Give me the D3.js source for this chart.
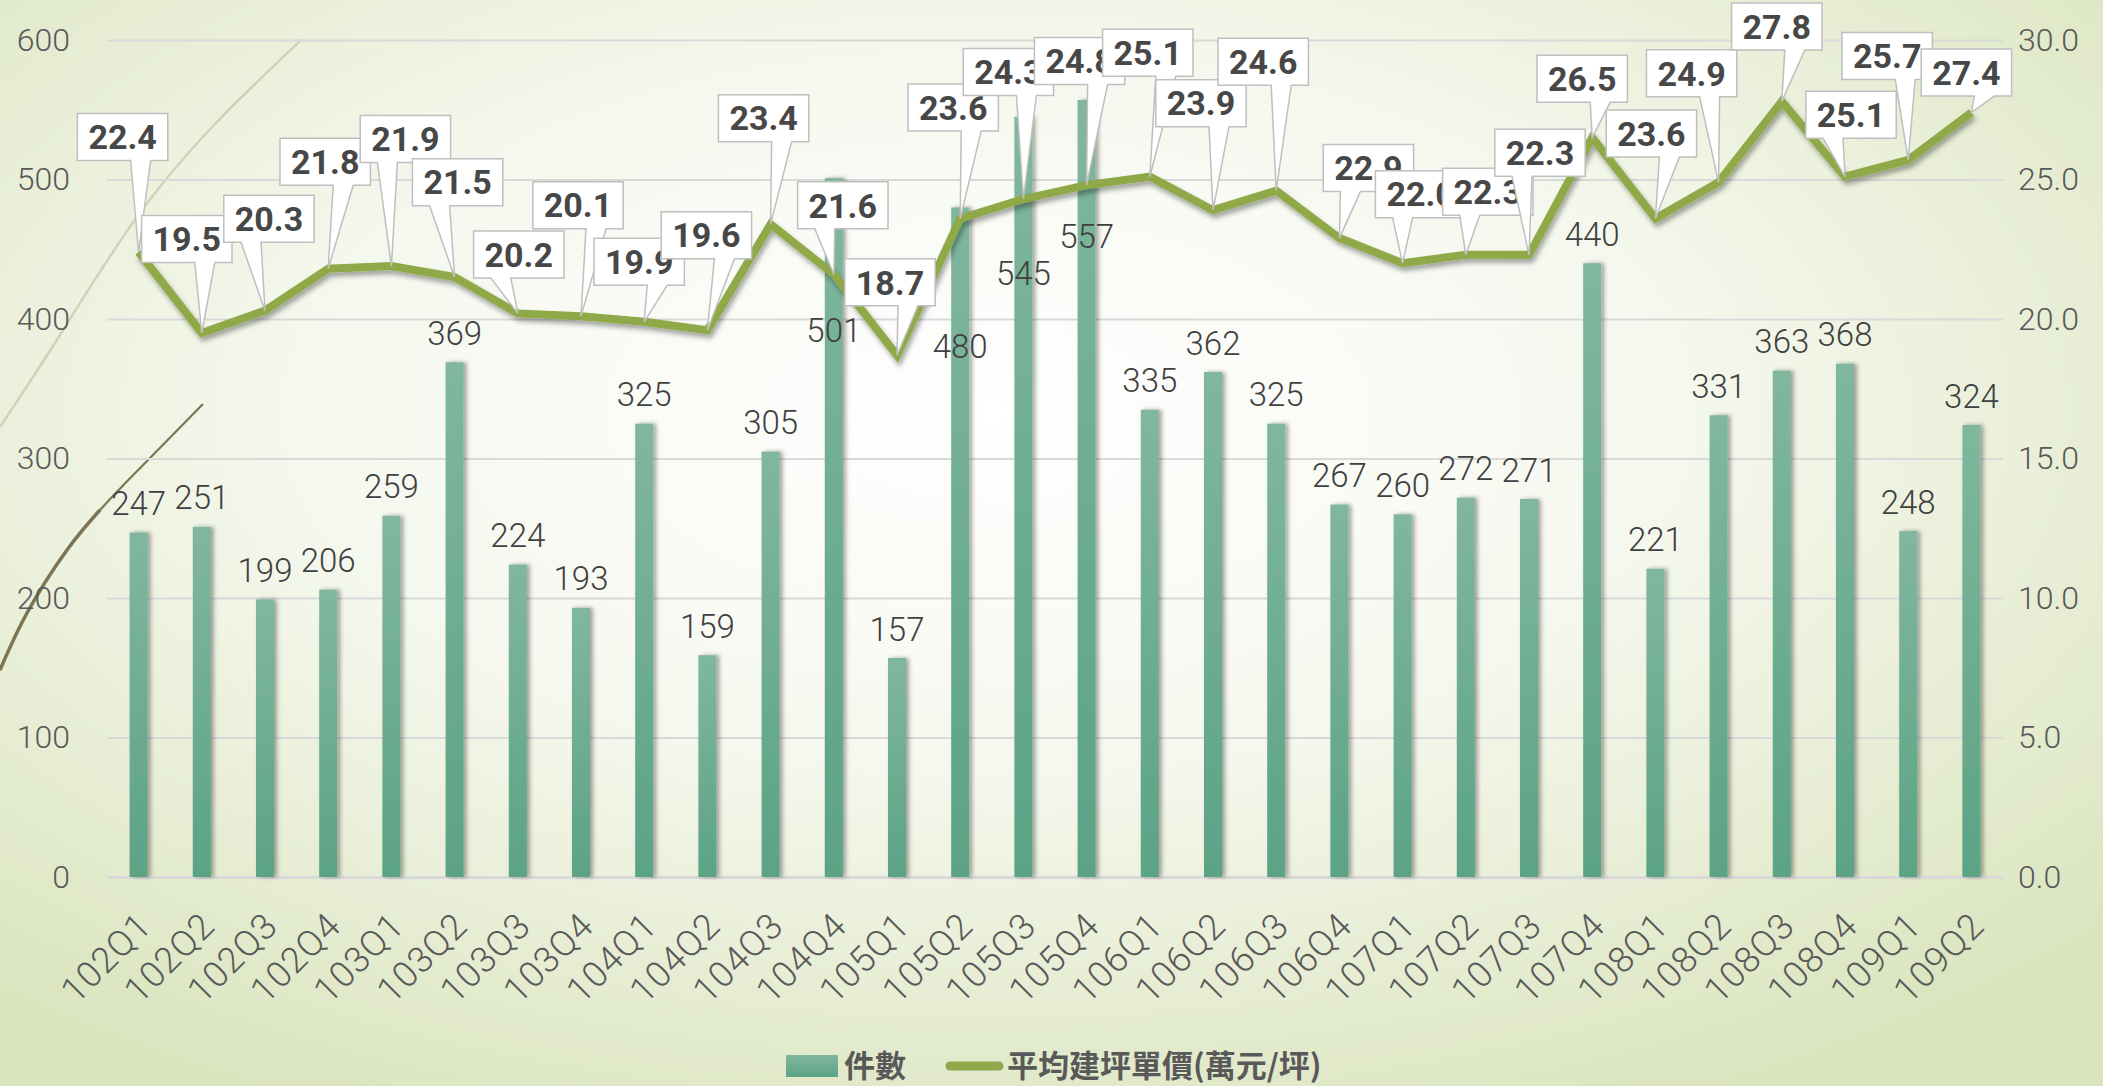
<!DOCTYPE html>
<html>
<head>
<meta charset="utf-8">
<script src="https://cdn.jsdelivr.net/npm/d3@7"></script>
<style>
  body { margin: 0; overflow: hidden; }
  svg { display: block; }
</style>
</head>
<body>
<svg id="chart" width="2103" height="1086"></svg>
<script>
const quarters = [
  '102Q1', '102Q2', '102Q3', '102Q4', '103Q1', '103Q2', '103Q3', '103Q4',
  '104Q1', '104Q2', '104Q3', '104Q4', '105Q1', '105Q2', '105Q3', '105Q4',
  '106Q1', '106Q2', '106Q3', '106Q4', '107Q1', '107Q2', '107Q3', '107Q4',
  '108Q1', '108Q2', '108Q3', '108Q4', '109Q1', '109Q2'
];
const counts = [
  247, 251, 199, 206, 259, 369, 224, 193, 325, 159, 305, 501, 157, 480, 545,
  557, 335, 362, 325, 267, 260, 272, 271, 440, 221, 331, 363, 368, 248, 324
];
const prices = [
  22.4, 19.5, 20.3, 21.8, 21.9, 21.5, 20.2, 20.1, 19.9, 19.6, 23.4, 21.6, 18.7, 23.6, 24.3,
  24.8, 25.1, 23.9, 24.6, 22.9, 22.0, 22.3, 22.3, 26.5, 23.6, 24.9, 27.8, 25.1, 25.7, 27.4
];
const countTicks = [0, 100, 200, 300, 400, 500, 600];
const priceTicks = [0, 5, 10, 15, 20, 25, 30];
const seriesNames = ['件數', '平均建坪單價(萬元/坪)'];

// where each price callout box sits, relative to its point (hand placed in the original)
const calloutOffsets = [
  [-16, -115], [-15, -94], [4, -92], [-3, -107], [14, -127], [3, -95], [1, -59], [-3, -111],
  [-5, -60], [-1, -95], [-7, -106], [9, -69], [-7, -73], [-7, -111], [-15, -127], [-7, -124],
  [-2, -124], [-12, -107], [-13, -129], [29, -70], [18, -69], [22, -63], [11, -102], [-10, -59],
  [-4, -85], [-27, -109], [-5, -75], [6, -62], [-21, -104], [-5, -40]
];
// count labels that were dragged down under the line
const countLabelShift = { 11: 181, 13: 168, 14: 186, 15: 165 };

const W = 2103, H = 1086;
const plotLeft = 107, plotRight = 2003, plotTop = 40, plotBottom = 877;
const svg = d3.select('#chart');
const defs = svg.append('defs');

// background
const bg = defs.append('radialGradient').attr('id', 'bg')
  .attr('cx', '47%').attr('cy', '38%').attr('r', '72%');
bg.append('stop').attr('offset', '0%').attr('stop-color', '#ffffff');
bg.append('stop').attr('offset', '45%').attr('stop-color', '#f5f8ee');
bg.append('stop').attr('offset', '100%').attr('stop-color', '#dae4bd');
svg.append('rect').attr('width', W).attr('height', H).attr('fill', 'url(#bg)');

const barGrad = defs.append('linearGradient').attr('id', 'barGrad')
  .attr('x1', 0).attr('y1', 0).attr('x2', 0).attr('y2', 1);
barGrad.append('stop').attr('offset', '0%').attr('stop-color', '#80b79e');
barGrad.append('stop').attr('offset', '100%').attr('stop-color', '#5ca386');

const barShadow = defs.append('filter').attr('id', 'barShadow')
  .attr('x', '-50%').attr('y', '-5%').attr('width', '200%').attr('height', '110%');
barShadow.append('feDropShadow').attr('dx', 3).attr('dy', 0).attr('stdDeviation', 2)
  .attr('flood-color', '#000').attr('flood-opacity', 0.35);

const lineShadow = defs.append('filter').attr('id', 'lineShadow')
  .attr('x', '-5%').attr('y', '-10%').attr('width', '110%').attr('height', '130%');
lineShadow.append('feDropShadow').attr('dx', 2).attr('dy', 4).attr('stdDeviation', 2.5)
  .attr('flood-color', '#000').attr('flood-opacity', 0.35);

// theme swooshes on the left
svg.append('path')
  .attr('d', d3.line().curve(d3.curveNatural)([[0, 427], [60, 335], [134, 221], [215, 124], [302, 39]]))
  .attr('fill', 'none').attr('stroke', '#cfd3bb').attr('stroke-width', 2.5);
svg.append('path')
  .attr('d', d3.line().curve(d3.curveNatural)([[0, 670], [27, 613], [67, 550], [112, 497], [150, 458], [203, 404]]))
  .attr('fill', 'none').attr('stroke', '#7c7452').attr('stroke-width', 2.2);
svg.append('path')
  .attr('d', d3.line().curve(d3.curveNatural)([[0, 670], [27, 613], [67, 550], [100, 510]]))
  .attr('fill', 'none').attr('stroke', '#7c7452').attr('stroke-width', 3.5);

const x = d3.scaleBand().domain(quarters).range([plotLeft, plotRight]);
const y = d3.scaleLinear().domain([0, 600]).range([plotBottom, plotTop]);
const y2 = d3.scaleLinear().domain([0, 30]).range([plotBottom, plotTop]);

// gridlines
const grid = svg.append('g').attr('transform', `translate(${plotLeft},0)`)
  .call(d3.axisLeft(y).tickValues(countTicks).tickSize(-(plotRight - plotLeft)).tickFormat(''));
grid.select('.domain').remove();
grid.selectAll('line').attr('stroke', '#d9d9d9').attr('stroke-width', 2);
grid.selectAll('.tick').filter(d => d === 0).select('line').attr('stroke-width', 3);

// left axis
const yAxis = svg.append('g').attr('transform', 'translate(70,0)')
  .call(d3.axisLeft(y).tickValues(countTicks).tickSize(0).tickPadding(0));
yAxis.select('.domain').remove();
yAxis.selectAll('text').attr('fill', '#595959').style('font-family', 'Roboto')
  .style('font-weight', 300).style('font-size', '32px');

// right axis
const y2Axis = svg.append('g').attr('transform', 'translate(2018,0)')
  .call(d3.axisRight(y2).tickValues(priceTicks).tickSize(0).tickPadding(0).tickFormat(d3.format('.1f')));
y2Axis.select('.domain').remove();
y2Axis.selectAll('text').attr('fill', '#595959').style('font-family', 'Roboto')
  .style('font-weight', 300).style('font-size', '32px');

// x axis
const xAxis = svg.append('g').attr('transform', `translate(0,${plotBottom})`)
  .call(d3.axisBottom(x).tickSize(0));
xAxis.select('.domain').remove();
xAxis.selectAll('text')
  .attr('fill', '#595959').style('font-family', 'Roboto').style('font-weight', 300)
  .style('font-size', '36px').style('letter-spacing', '1px')
  .attr('text-anchor', 'end').attr('x', 0).attr('y', 0).attr('dy', '0.35em')
  .attr('transform', 'translate(6,42) rotate(-45)');

// bars
const barW = 18;
svg.append('g').selectAll('rect').data(counts).join('rect')
  .attr('x', (d, i) => x(quarters[i]) + (x.bandwidth() - barW) / 2)
  .attr('y', d => y(d))
  .attr('width', barW)
  .attr('height', d => y(0) - y(d))
  .attr('fill', 'url(#barGrad)')
  .attr('filter', 'url(#barShadow)');

// price line
const cx = i => x(quarters[i]) + x.bandwidth() / 2;
svg.append('path')
  .attr('d', d3.line().x((d, i) => cx(i)).y(d => y2(d))(prices))
  .attr('fill', 'none').attr('stroke', '#8fa94a').attr('stroke-width', 8)
  .attr('filter', 'url(#lineShadow)');

// count labels
svg.append('g').selectAll('text').data(counts).join('text')
  .attr('x', (d, i) => cx(i))
  .attr('y', (d, i) => y(d) - 29 + (countLabelShift[i] || 0))
  .attr('dy', '0.35em')
  .attr('text-anchor', 'middle')
  .attr('fill', '#404040').style('font-family', 'Roboto').style('font-weight', 300)
  .style('font-size', '33px')
  .text(d => d);

// price callouts
const callouts = svg.append('g');
prices.forEach((v, i) => {
  const px = cx(i), py = y2(v);
  const bx = px + calloutOffsets[i][0], by = py + calloutOffsets[i][1];
  const g = callouts.append('g');
  const path = g.append('path');
  const t = g.append('text')
    .attr('x', bx).attr('y', by).attr('dy', '0.36em')
    .attr('text-anchor', 'middle')
    .attr('fill', '#474747').style('font-family', 'Roboto').style('font-weight', 700)
    .style('font-size', '34px')
    .text(d3.format('.1f')(v));
  const bw = t.node().getComputedTextLength() + 22, bh = 47;
  const x0 = bx - bw / 2, x1 = bx + bw / 2, y0 = by - bh / 2, y1 = by + bh / 2;
  let bc = bx + (px >= bx ? 18 : -18);
  bc = Math.max(x0 + 11, Math.min(x1 - 11, bc));
  path.attr('d', `M${x0},${y0}H${x1}V${y1}H${bc + 10}L${px},${py}L${bc - 10},${y1}H${x0}Z`)
    .attr('fill', '#ffffff').attr('stroke', '#bfbfbf').attr('stroke-width', 1.5);
});

// legend
const legend = svg.append('g');
legend.append('rect').attr('x', 786).attr('y', 1055).attr('width', 52).attr('height', 22)
  .attr('fill', 'url(#barGrad)');
legend.append('line').attr('x1', 950).attr('x2', 999).attr('y1', 1066).attr('y2', 1066)
  .attr('stroke', '#8fa94a').attr('stroke-width', 9).attr('stroke-linecap', 'round');
legend.selectAll('text').data(seriesNames).join('text')
  .attr('x', (d, i) => i === 0 ? 844 : 1007)
  .attr('y', 1066).attr('dy', '0.36em')
  .attr('fill', '#595959').style('font-family', '"Noto Sans CJK TC"').style('font-weight', 700)
  .style('font-size', '31px')
  .text(d => d);
</script>
</body>
</html>
